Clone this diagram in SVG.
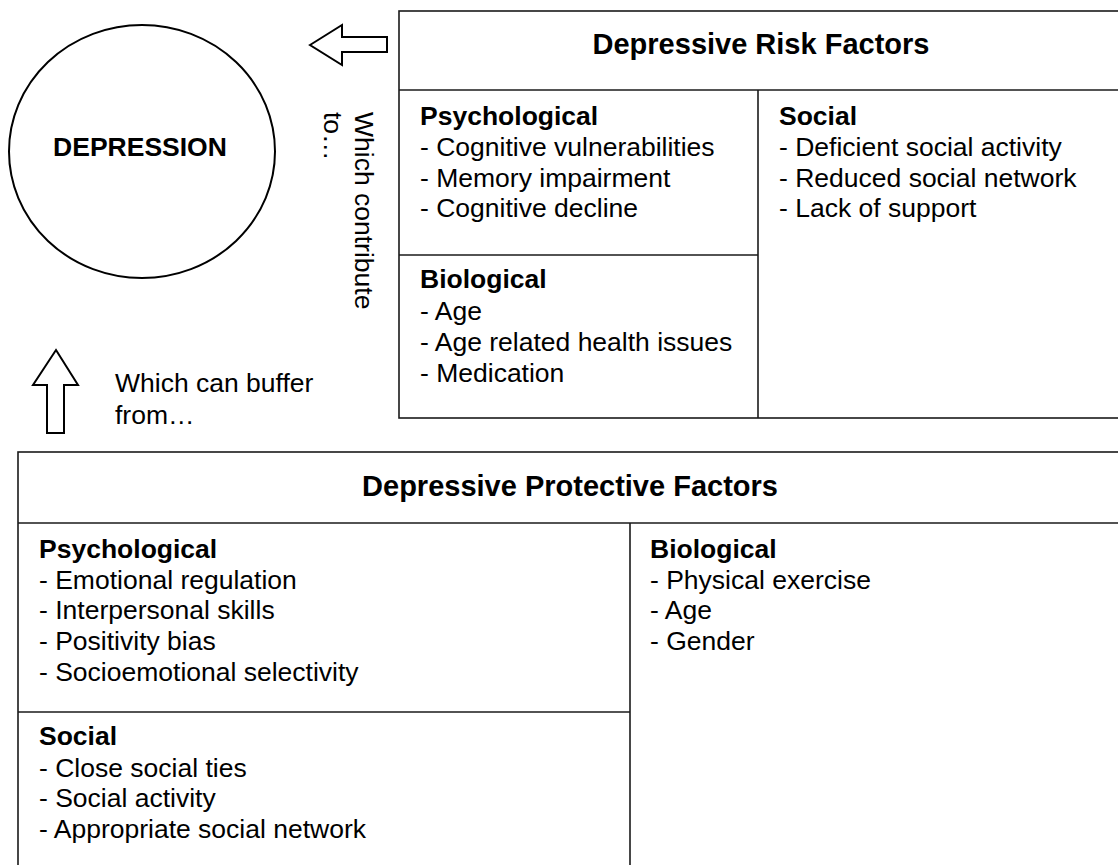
<svg xmlns="http://www.w3.org/2000/svg" width="1118" height="865" viewBox="0 0 1118 865">
<style>
.bx{fill:#fff;stroke:#1a1a1a;stroke-width:1.6}
.ln{fill:none;stroke:#1a1a1a;stroke-width:1.6}
.ar{fill:#fff;stroke:#000;stroke-width:2;stroke-linejoin:miter}
text{font-family:"Liberation Sans",Arial,Helvetica,sans-serif;fill:#000}
.t{font-size:26.5px}
.h{font-size:29px;font-weight:bold}
.s{font-size:26.5px;font-weight:bold}
</style>
<rect width="1118" height="865" fill="#fff"/>
<g id="depression">
<ellipse cx="142" cy="151.5" rx="133" ry="126.5" fill="#fff" stroke="#000" stroke-width="2"/>
<text class="s" x="140" y="156" text-anchor="middle">DEPRESSION</text>
</g>
<g id="connectors">
<polygon class="ar" points="310,45 342,25 342,37 387,37 387,52 342,52 342,65"/>
<polygon class="ar" points="56,350 78,385 64,385 64,433 47,433 47,385 33,385"/>
<g transform="translate(355,112) rotate(90)">
<text class="t" x="0" y="0">Which contribute</text>
<text class="t" x="0" y="31">to…</text>
</g>
<text class="t" x="115" y="392">Which can buffer</text>
<text class="t" x="115" y="424">from…</text>
</g>
<g id="risk-factors">
<rect class="bx" x="399" y="11" width="730" height="407"/>
<line class="ln" x1="399" y1="90" x2="1129" y2="90"/>
<line class="ln" x1="758" y1="90" x2="758" y2="418"/>
<line class="ln" x1="399" y1="255" x2="758" y2="255"/>
<text class="h" x="761" y="54" text-anchor="middle">Depressive Risk Factors</text>
<text class="s" x="420" y="125">Psychological</text>
<text class="t" x="420" y="156">- Cognitive vulnerabilities</text>
<text class="t" x="420" y="187">- Memory impairment</text>
<text class="t" x="420" y="217">- Cognitive decline</text>
<text class="s" x="420" y="288">Biological</text>
<text class="t" x="420" y="320">- Age</text>
<text class="t" x="420" y="351">- Age related health issues</text>
<text class="t" x="420" y="382">- Medication</text>
<text class="s" x="779" y="125">Social</text>
<text class="t" x="779" y="156">- Deficient social activity</text>
<text class="t" x="779" y="187">- Reduced social network</text>
<text class="t" x="779" y="217">- Lack of support</text>
</g>
<g id="protective-factors">
<rect class="bx" x="18" y="452" width="1110" height="430"/>
<line class="ln" x1="18" y1="523" x2="1128" y2="523"/>
<line class="ln" x1="630" y1="523" x2="630" y2="882"/>
<line class="ln" x1="18" y1="712" x2="630" y2="712"/>
<text class="h" x="570" y="496" text-anchor="middle">Depressive Protective Factors</text>
<text class="s" x="39" y="558">Psychological</text>
<text class="t" x="39" y="589">- Emotional regulation</text>
<text class="t" x="39" y="619">- Interpersonal skills</text>
<text class="t" x="39" y="650">- Positivity bias</text>
<text class="t" x="39" y="681">- Socioemotional selectivity</text>
<text class="s" x="39" y="745">Social</text>
<text class="t" x="39" y="777">- Close social ties</text>
<text class="t" x="39" y="807">- Social activity</text>
<text class="t" x="39" y="838">- Appropriate social network</text>
<text class="s" x="650" y="558">Biological</text>
<text class="t" x="650" y="589">- Physical exercise</text>
<text class="t" x="650" y="619">- Age</text>
<text class="t" x="650" y="650">- Gender</text>
</g>
</svg>
